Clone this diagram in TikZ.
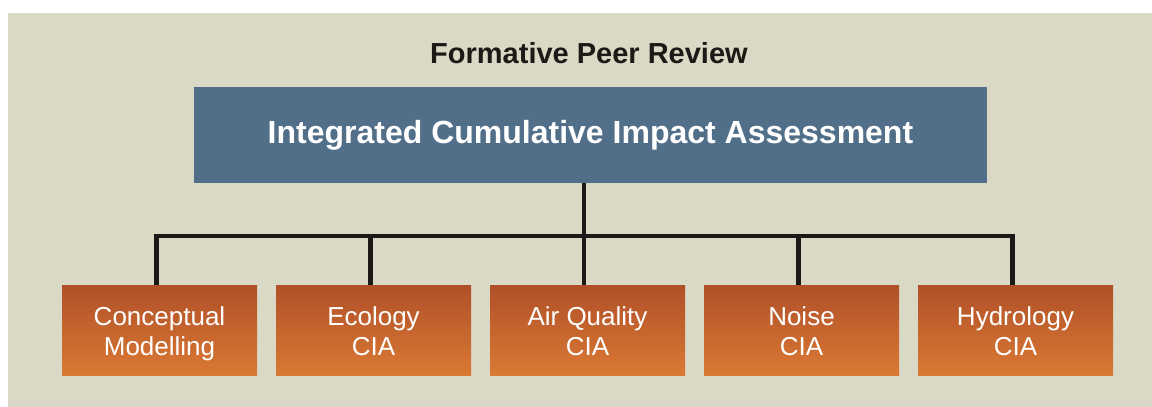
\documentclass[tikz,border=0pt]{standalone}
\usepackage{fontspec}
\setmainfont{Liberation Sans}
\definecolor{paneltan}{RGB}{218, 217, 198}
\definecolor{headblue}{RGB}{82, 111, 138}
\definecolor{rusttop}{RGB}{176, 80, 40}
\definecolor{rustbot}{RGB}{218, 121, 52}
\definecolor{linkblack}{RGB}{28, 26, 22}
\usetikzlibrary{positioning, calc}

\begin{document}
\begin{tikzpicture}[x=1pt, y=-1pt,
    subbox/.style={top color=rusttop, bottom color=rustbot, minimum width=195pt, minimum height=90pt, align=center, inner sep=0pt, text height=50pt, text depth=0pt, text=white, font=\fontsize{26}{30}\selectfont},
    treeline/.style={draw=linkblack, line width=4.5pt}]
  \useasboundingbox (0, 0) rectangle (1152, 407);
  \fill[paneltan] (8, 13) rectangle (1152, 407);

  % Heading
  \node[anchor=base, font=\fontsize{29}{34}\selectfont\bfseries, text=linkblack, inner sep=0pt] (title) at (589, 63) {Formative Peer Review};

  % Main assessment
  \node[fill=headblue, minimum width=793pt, minimum height=96pt, inner sep=0pt, text=white, font=\fontsize{32}{38}\selectfont\bfseries] (icia) at (590.5, 135) {Integrated Cumulative Impact Assessment};

  % Component assessments
  \node[subbox] (concept) at (159.5, 330) {Conceptual\\Modelling};
  \node[subbox] (ecology) at (373.5, 330) {Ecology\\CIA};
  \node[subbox] (airq) at (587.5, 330) {Air Quality\\CIA};
  \node[subbox] (noise) at (801.5, 330) {Noise\\CIA};
  \node[subbox] (hydro) at (1015.5, 330) {Hydrology\\CIA};

  % Tree
  \coordinate (bus) at (584, 236);
  \draw[treeline] ([xshift=-3pt]concept.north) -- ([xshift=-3pt]concept.north |- bus) -- ([xshift=-3pt]hydro.north |- bus) -- ([xshift=-3pt]hydro.north);
  \draw[treeline] (icia.south -| bus) -- (bus |- airq.north);
  \foreach \b in {ecology, noise}
    \draw[treeline] ([xshift=-3pt]\b.north |- bus) -- ([xshift=-3pt]\b.north);
\end{tikzpicture}
\end{document}
